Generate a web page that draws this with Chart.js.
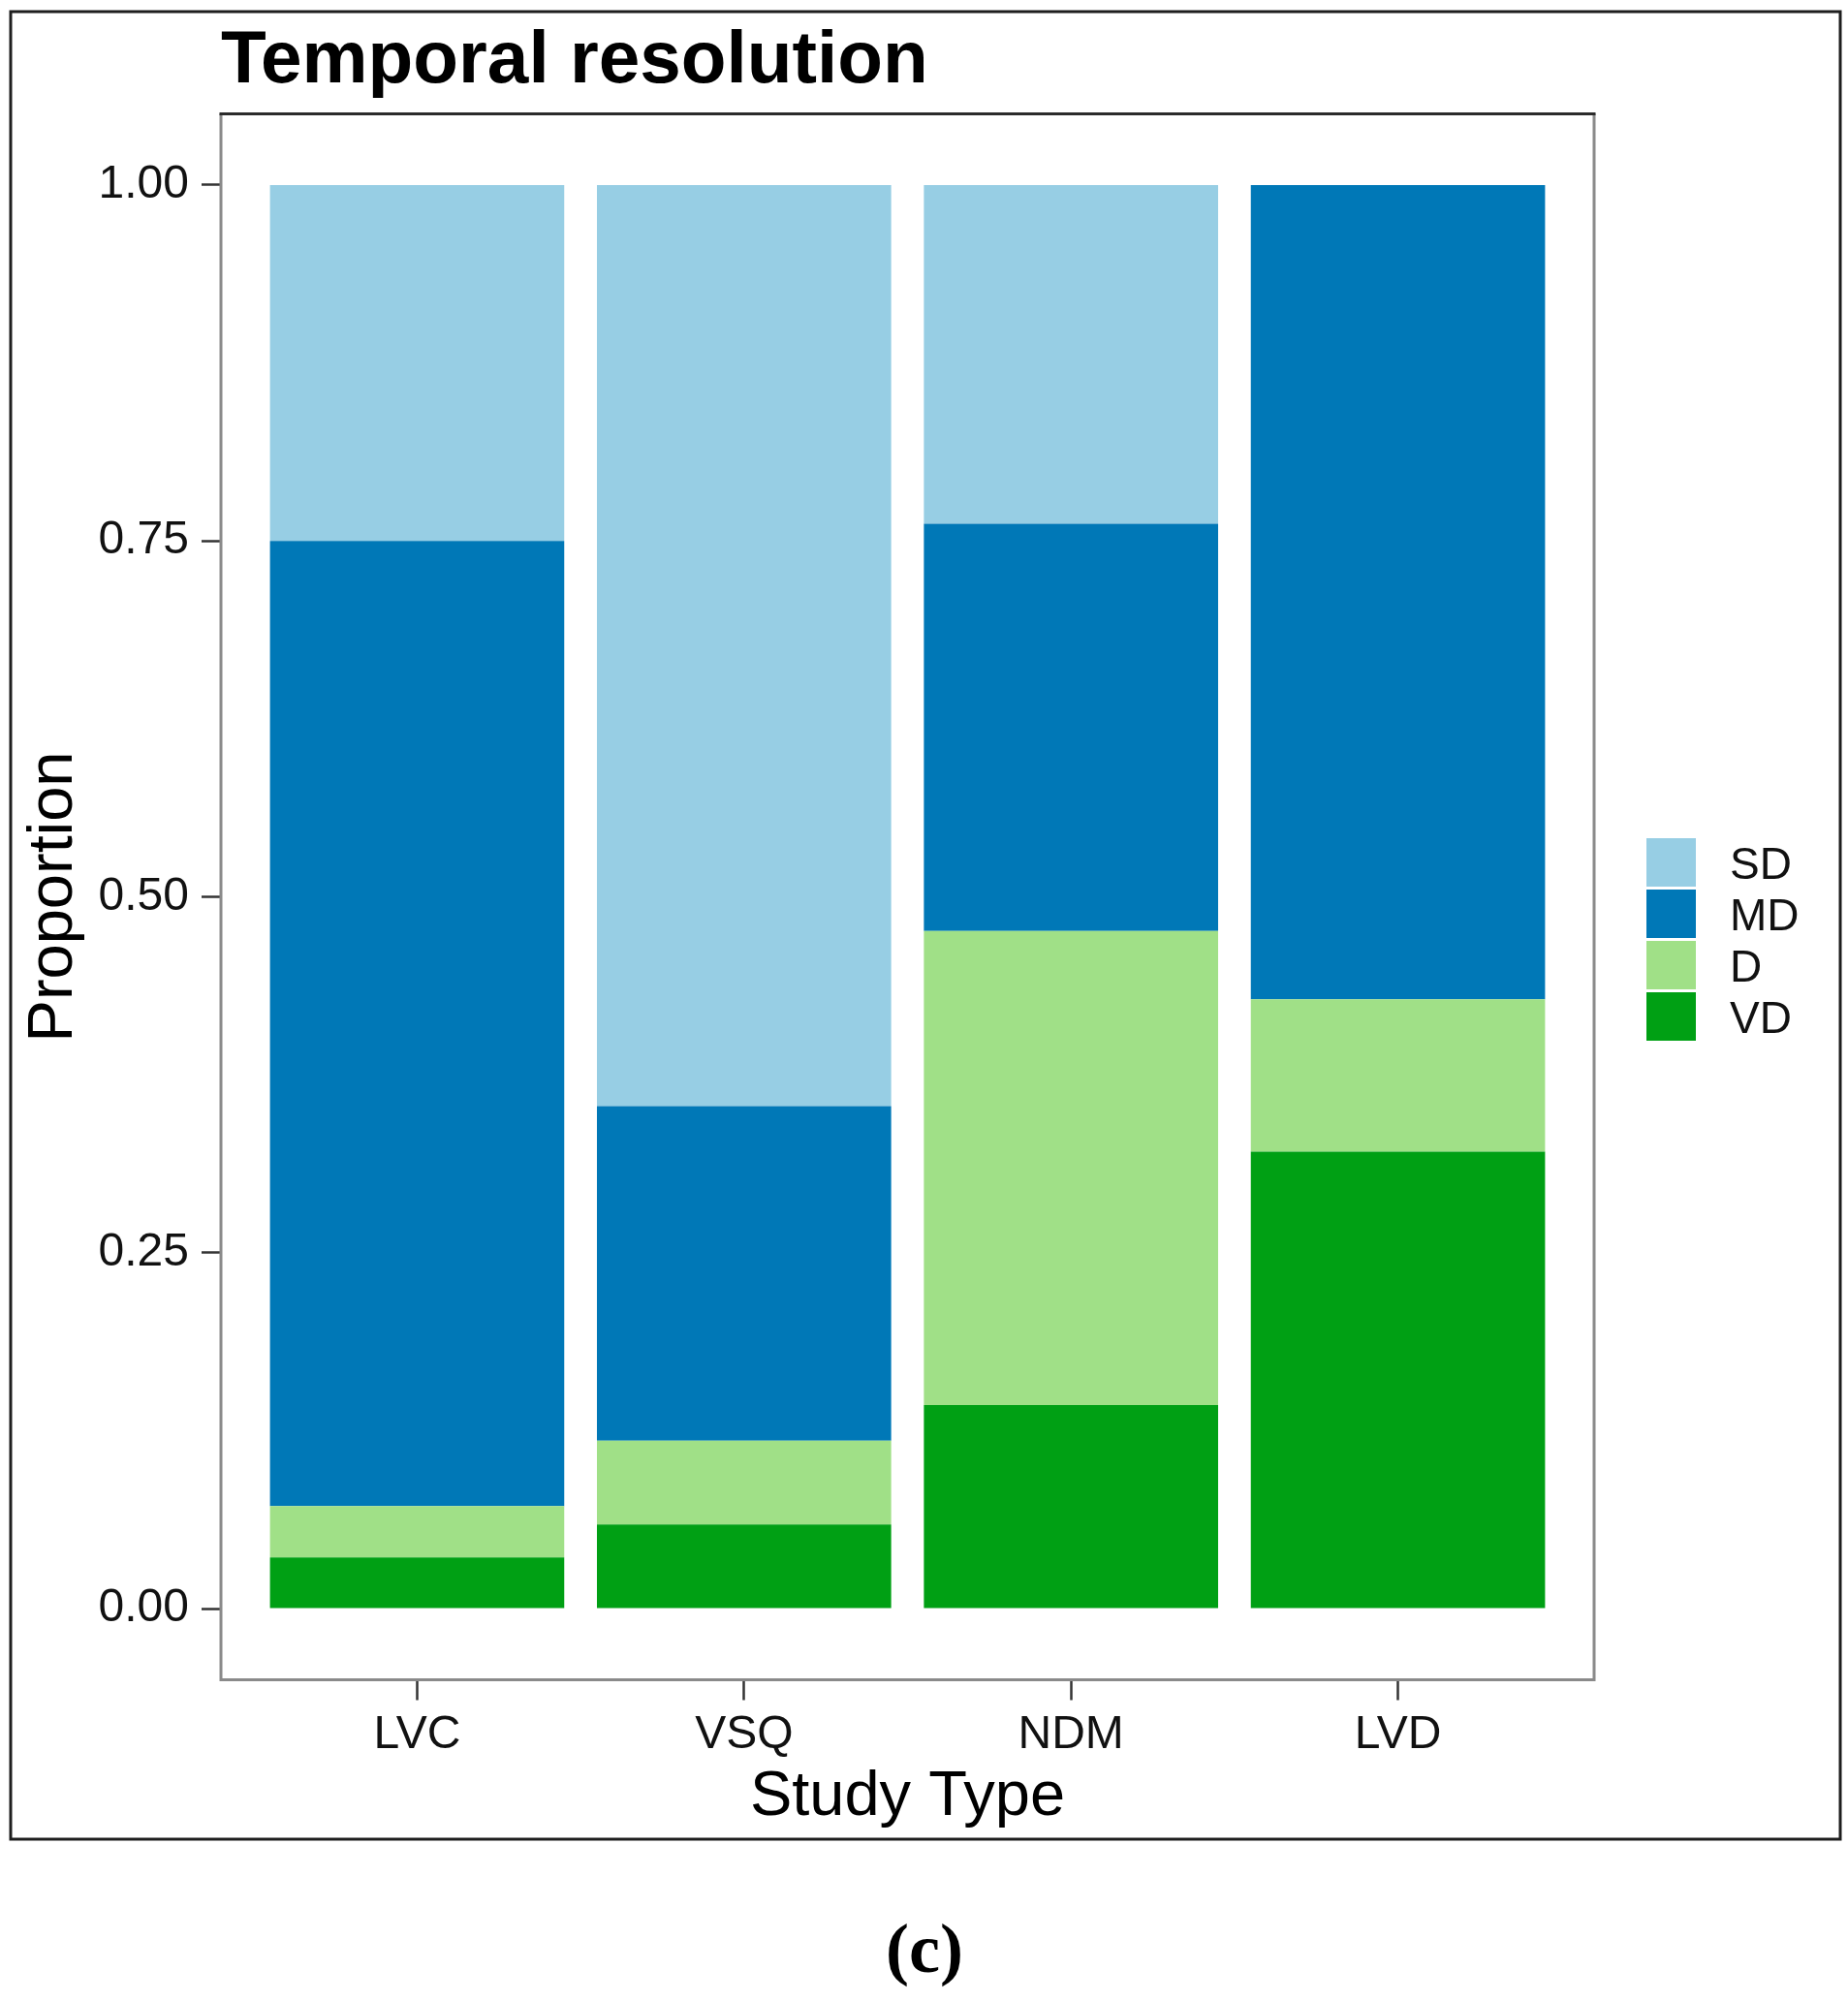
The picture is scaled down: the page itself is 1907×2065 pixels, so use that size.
<!DOCTYPE html>
<html>
<head>
<meta charset="utf-8">
<script src="https://cdn.jsdelivr.net/npm/chart.js@4.4.1/dist/chart.umd.min.js"></script>
<style>
  html, body { margin: 0; padding: 0; background: #fff; }
  #chart { display: block; }
</style>
</head>
<body>
<canvas id="chart" width="1907" height="2065"></canvas>
<script>
// data (proportions per study type)
const studyTypes = ['LVC', 'VSQ', 'NDM', 'LVD'];
const resolutions = ['SD', 'MD', 'D', 'VD'];
const sdShare = [0.250, 0.647, 0.238, 0.000];
const mdShare = [0.678, 0.235, 0.286, 0.572];
const dShare  = [0.036, 0.059, 0.333, 0.107];
const vdShare = [0.036, 0.059, 0.143, 0.321];
const yTicks = [0, 0.25, 0.5, 0.75, 1];

const colors = { SD: '#97cee4', MD: '#0078b7', D: '#a0e087', VD: '#00a014' };
const shares = { SD: sdShare, MD: mdShare, D: dShare, VD: vdShare };

// bottom of the stack first
const stackOrder = ['VD', 'D', 'MD', 'SD'];
const datasets = stackOrder.map(key => ({
  label: key,
  data: shares[key].map((v, i) => ({ x: i + 1, y: v })),
  backgroundColor: colors[key],
  borderWidth: 0,
  categoryPercentage: 1,
  barPercentage: 0.9
}));

const sans = "'Liberation Sans', Arial, sans-serif";

const decor = {
  id: 'decor',
  afterDraw(chart) {
    const { ctx, chartArea: a } = chart;
    ctx.save();

    // outer frame
    ctx.strokeStyle = '#1e1e1e';
    ctx.lineWidth = 3;
    ctx.strokeRect(11, 12, 1888, 1886);

    // panel border
    ctx.strokeStyle = '#8a8a8a';
    ctx.beginPath();
    ctx.moveTo(a.left, a.top);
    ctx.lineTo(a.left, a.bottom);
    ctx.lineTo(a.right, a.bottom);
    ctx.lineTo(a.right, a.top);
    ctx.stroke();
    ctx.strokeStyle = '#2b2b2b';
    ctx.beginPath();
    ctx.moveTo(a.left - 1.5, a.top);
    ctx.lineTo(a.right + 1.5, a.top);
    ctx.stroke();

    // legend
    const keyX = a.right + 54, keyY = 865, step = 53;
    ctx.font = '46px ' + sans;
    ctx.textBaseline = 'middle';
    ctx.textAlign = 'left';
    resolutions.forEach((r, i) => {
      ctx.fillStyle = colors[r];
      ctx.fillRect(keyX, keyY + i * step, 51, 50);
      ctx.fillStyle = '#111';
      ctx.fillText(r, keyX + 86, keyY + i * step + 29);
    });

    // panel caption
    ctx.font = "bold 72px 'Liberation Serif', 'Times New Roman', serif";
    ctx.textAlign = 'center';
    ctx.textBaseline = 'alphabetic';
    ctx.fillStyle = '#000';
    ctx.fillText('(c)', 954, 2035);

    ctx.restore();
  }
};

new Chart(document.getElementById('chart'), {
  type: 'bar',
  data: { datasets },
  plugins: [decor],
  options: {
    responsive: false,
    animation: false,
    devicePixelRatio: 1,
    layout: { padding: { top: 0, left: 0, right: 262, bottom: 0 } },
    plugins: {
      legend: { display: false },
      tooltip: { enabled: false },
      title: {
        display: true,
        text: 'Temporal resolution',
        align: 'start',
        fullSize: false,
        color: '#000',
        font: { family: sans, size: 76.5, weight: 'bold', lineHeight: 1.2 },
        padding: { top: 18, bottom: 7.7 }
      }
    },
    scales: {
      x: {
        type: 'linear',
        stacked: true,
        offset: false,
        min: 0.4,
        max: 4.6,
        afterFit: s => { s.height = 331.5; },
        afterBuildTicks: s => { s.ticks = studyTypes.map((_, i) => ({ value: i + 1 })); },
        ticks: {
          callback: v => studyTypes[v - 1],
          color: '#111',
          font: { family: sans, size: 48 },
          padding: 7,
          maxRotation: 0
        },
        grid: { offset: false, drawOnChartArea: false, drawTicks: true, tickLength: 21, tickColor: '#333', tickWidth: 2.5 },
        border: { display: false },
        title: {
          display: true,
          text: 'Study Type',
          color: '#000',
          font: { family: sans, size: 65, lineHeight: 1.2 },
          padding: { top: 0, bottom: 171 }
        }
      },
      y: {
        stacked: true,
        min: -0.05,
        max: 1.05,
        afterFit: s => { s.width = 228; },
        afterBuildTicks: s => { s.ticks = yTicks.map(v => ({ value: v })); },
        ticks: {
          callback: v => v.toFixed(2),
          color: '#111',
          font: { family: sans, size: 48 },
          padding: 13
        },
        grid: { drawOnChartArea: false, drawTicks: true, tickLength: 20, tickColor: '#333', tickWidth: 2.5 },
        border: { display: false },
        title: {
          display: true,
          text: 'Proportion',
          color: '#000',
          font: { family: sans, size: 65, lineHeight: 1.2 },
          padding: { top: 17.5, bottom: 0 }
        }
      }
    }
  }
});
</script>
</body>
</html>
